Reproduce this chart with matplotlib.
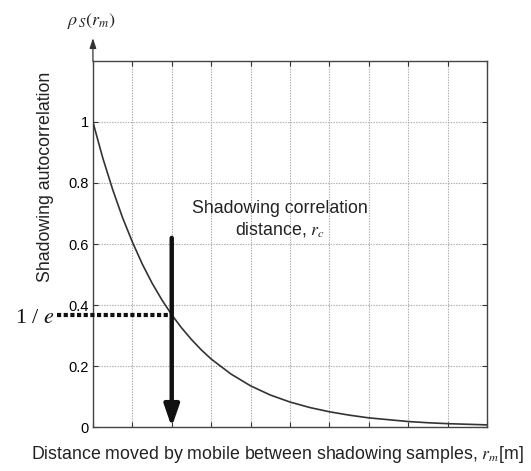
import matplotlib
matplotlib.use("Agg")
import matplotlib.pyplot as plt

# Shadowing autocorrelation vs. distance moved (units of grid spacing)
distance = [0, 0.25, 0.5, 0.75, 1, 1.25, 1.5, 1.75, 2, 2.25, 2.5, 2.75, 3, 3.5, 4, 4.5,
            5, 5.5, 6, 6.5, 7, 7.5, 8, 8.5, 9, 9.5, 10]
autocorr = [1.0, 0.882, 0.779, 0.687, 0.607, 0.535, 0.472, 0.417, 0.368, 0.325, 0.287,
            0.253, 0.223, 0.174, 0.135, 0.105, 0.082, 0.064, 0.050, 0.039, 0.030,
            0.024, 0.018, 0.014, 0.011, 0.009, 0.007]
y_ticks = [0, 0.2, 0.4, 0.6, 0.8, 1]
y_ticklabels = ["0", "0.2", "0.4", "0.6", "0.8", "1"]
corr_distance = 2.0
inv_e = 0.368
arrow_top = 0.62

plt.rcParams["font.family"] = ["Liberation Sans", "DejaVu Sans"]
plt.rcParams["mathtext.fontset"] = "stix"

fig = plt.figure(figsize=(5.31, 4.71), dpi=100)
ax = fig.add_axes([0.175, 0.0934, 0.742, 0.7771])

ax.set_xlim(0, 10)
ax.set_ylim(0, 1.2)
ax.set_xticks(range(0, 11))
ax.set_xticklabels([])
ax.set_yticks(y_ticks)
ax.set_yticklabels(y_ticklabels, fontsize=10.5)
ax.tick_params(direction="in", top=True, right=True, length=3.5, width=0.8,
               color="#333333", pad=3)
ax.grid(True, color="#aaaaaa", linestyle=(0, (1.2, 1.2)), linewidth=0.8)
for s in ax.spines.values():
    s.set_color("#444444")
    s.set_linewidth(1.0)

ax.plot(distance, autocorr, color="#333333", linewidth=1.2, zorder=3)

# correlation-distance arrow
ax.annotate("", xy=(corr_distance, 0), xytext=(corr_distance, arrow_top),
            arrowprops=dict(arrowstyle="-|>,head_length=1.3,head_width=0.45",
                            color="#111111", linewidth=3.2, shrinkA=0, shrinkB=0),
            zorder=4)

# 1/e level marker
ax.plot([-0.92, corr_distance], [inv_e, inv_e], color="#111111", linewidth=3,
        linestyle=(0, (1.0, 0.6)), clip_on=False, zorder=4)
ax.text(-0.97, inv_e - 0.012, "1 / $e$", fontsize=16, family="Liberation Serif",
        ha="right", va="center", color="#111111")

ax.text(4.75, 0.68, "Shadowing correlation\ndistance, $r_c$", fontsize=12.8,
        ha="center", va="center", color="#222222", linespacing=1.25)

# y axis arrow and symbol
ax.annotate("", xy=(0, 1.275), xytext=(0, 1.2),
            arrowprops=dict(arrowstyle="-|>,head_length=0.6,head_width=0.2",
                            color="#333333", linewidth=0.9, shrinkA=0, shrinkB=0),
            annotation_clip=False)
ax.text(-0.05, 1.33, r"$\rho_{\,S}(r_m)$", fontsize=13, ha="center", va="center",
        color="#222222")

fig.text(0.085, 0.624, "Shadowing autocorrelation", rotation=90, fontsize=12.8,
         ha="center", va="center", color="#222222")
fig.text(0.522, 0.034, "Distance moved by mobile between shadowing samples, $r_m$[m]",
         fontsize=12.8, ha="center", va="center", color="#222222")

fig.savefig("out.png", dpi=100)
